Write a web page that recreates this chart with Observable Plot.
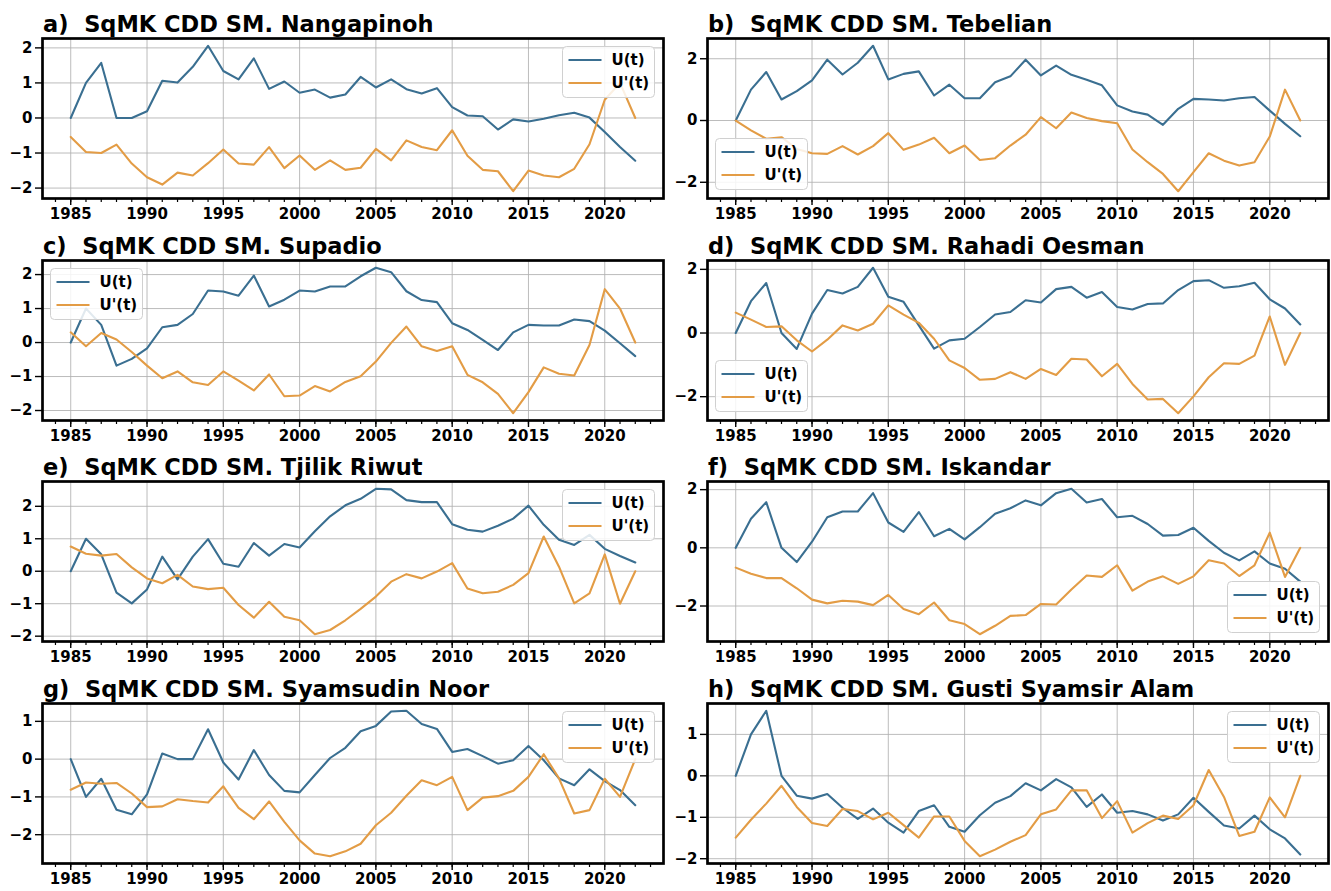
<!DOCTYPE html>
<html><head><meta charset="utf-8">
<script src="https://cdn.jsdelivr.net/npm/d3@7"></script>
<script src="https://cdn.jsdelivr.net/npm/@observablehq/plot@0.6"></script>
<style>
html,body{margin:0;padding:0;background:#fff;}
#wrap{position:relative;width:1331px;height:891px;overflow:hidden;background:#fff;}
#wrap svg{position:absolute;}
</style></head><body><div id="wrap"></div>
<script>
const years = [1985,1986,1987,1988,1989,1990,1991,1992,1993,1994,1995,1996,1997,1998,1999,2000,2001,2002,2003,2004,2005,2006,2007,2008,2009,2010,2011,2012,2013,2014,2015,2016,2017,2018,2019,2020,2021,2022];
const xMajorTicks = [1985,1990,1995,2000,2005,2010,2015,2020];
const xMinorTicks = [1984,1985,1986,1987,1988,1989,1990,1991,1992,1993,1994,1995,1996,1997,1998,1999,2000,2001,2002,2003,2004,2005,2006,2007,2008,2009,2010,2011,2012,2013,2014,2015,2016,2017,2018,2019,2020,2021,2022,2023];
const panelLabels = ["a)","b)","c)","d)","e)","f)","g)","h)"];
const stationNames = ["Nangapinoh","Tebelian","Supadio","Rahadi Oesman","Tjilik Riwut","Iskandar","Syamsudin Noor","Gusti Syamsir Alam"];
const seriesNames = ["U(t)","U'(t)"];

const U_a  = [0,1.0,1.57,0,0,0.19,1.06,1.01,1.46,2.06,1.34,1.1,1.7,0.83,1.04,0.72,0.81,0.58,0.67,1.17,0.87,1.1,0.82,0.7,0.85,0.31,0.07,0.05,-0.33,-0.04,-0.1,-0.02,0.08,0.15,0.01,-0.4,-0.83,-1.22];
const Up_a = [-0.54,-0.97,-1.0,-0.76,-1.3,-1.69,-1.9,-1.56,-1.64,-1.29,-0.9,-1.3,-1.33,-0.83,-1.43,-1.07,-1.48,-1.21,-1.48,-1.42,-0.88,-1.21,-0.64,-0.83,-0.92,-0.35,-1.08,-1.48,-1.52,-2.09,-1.5,-1.64,-1.69,-1.45,-0.75,0.52,1.0,0];
const U_b  = [0,1.0,1.57,0.68,0.95,1.3,1.97,1.49,1.87,2.42,1.33,1.51,1.59,0.81,1.16,0.72,0.72,1.24,1.43,1.97,1.46,1.78,1.48,1.32,1.14,0.49,0.29,0.19,-0.14,0.38,0.7,0.68,0.65,0.72,0.76,0.32,-0.11,-0.51];
const Up_b = [0,-0.32,-0.59,-0.54,-0.92,-1.06,-1.08,-0.83,-1.1,-0.83,-0.41,-0.95,-0.78,-0.56,-1.06,-0.81,-1.28,-1.22,-0.81,-0.46,0.11,-0.25,0.26,0.08,-0.02,-0.09,-0.94,-1.35,-1.73,-2.29,-1.67,-1.06,-1.3,-1.46,-1.35,-0.52,1.0,0];
const U_c  = [0,1.0,0.52,-0.68,-0.48,-0.17,0.45,0.52,0.84,1.53,1.5,1.38,1.97,1.06,1.26,1.53,1.5,1.65,1.65,1.95,2.2,2.07,1.51,1.25,1.19,0.57,0.37,0.08,-0.22,0.3,0.52,0.5,0.5,0.68,0.63,0.35,-0.02,-0.4];
const Up_c = [0.3,-0.11,0.28,0.09,-0.28,-0.68,-1.05,-0.85,-1.17,-1.25,-0.85,-1.12,-1.41,-0.94,-1.58,-1.56,-1.28,-1.44,-1.16,-0.99,-0.56,-0.01,0.47,-0.11,-0.25,-0.11,-0.95,-1.17,-1.51,-2.08,-1.46,-0.73,-0.92,-0.97,-0.07,1.57,1.0,0];
const U_d  = [0,1.0,1.57,0.0,-0.5,0.61,1.35,1.24,1.45,2.05,1.14,0.98,0.24,-0.49,-0.23,-0.18,0.19,0.58,0.66,1.03,0.96,1.38,1.45,1.11,1.29,0.82,0.74,0.91,0.93,1.35,1.63,1.66,1.42,1.47,1.58,1.06,0.77,0.27];
const Up_d = [0.64,0.42,0.19,0.21,-0.23,-0.58,-0.21,0.24,0.08,0.29,0.87,0.58,0.32,-0.18,-0.86,-1.1,-1.47,-1.44,-1.23,-1.44,-1.13,-1.32,-0.81,-0.83,-1.36,-0.97,-1.6,-2.09,-2.07,-2.52,-1.99,-1.39,-0.95,-0.97,-0.71,0.52,-1.0,0];
const U_e  = [0,1.0,0.52,-0.66,-0.99,-0.56,0.45,-0.25,0.45,0.99,0.23,0.14,0.87,0.48,0.84,0.73,1.23,1.69,2.03,2.23,2.54,2.52,2.19,2.13,2.13,1.45,1.28,1.22,1.4,1.62,2.02,1.43,0.97,0.81,1.12,0.69,0.47,0.27];
const Up_e = [0.76,0.54,0.48,0.53,0.12,-0.22,-0.37,-0.11,-0.47,-0.55,-0.51,-1.04,-1.43,-0.94,-1.4,-1.51,-1.94,-1.81,-1.51,-1.16,-0.78,-0.32,-0.09,-0.22,-0.01,0.25,-0.53,-0.68,-0.63,-0.42,-0.06,1.07,0.14,-0.99,-0.68,0.52,-1.0,0];
const U_f  = [0,1.0,1.57,0,-0.49,0.21,1.05,1.25,1.25,1.88,0.87,0.55,1.23,0.4,0.65,0.29,0.71,1.17,1.36,1.63,1.46,1.88,2.03,1.56,1.68,1.05,1.1,0.82,0.42,0.44,0.69,0.24,-0.17,-0.43,-0.12,-0.54,-0.72,-1.16];
const Up_f = [-0.68,-0.89,-1.04,-1.04,-1.39,-1.78,-1.91,-1.82,-1.85,-1.97,-1.62,-2.1,-2.28,-1.88,-2.49,-2.62,-2.97,-2.68,-2.34,-2.31,-1.93,-1.95,-1.43,-0.95,-1.0,-0.6,-1.47,-1.16,-0.98,-1.24,-0.98,-0.43,-0.54,-0.97,-0.6,0.52,-1.0,0];
const U_g  = [0,-1.0,-0.52,-1.34,-1.46,-0.93,0.15,0,0,0.79,-0.09,-0.54,0.24,-0.42,-0.84,-0.88,-0.42,0.03,0.3,0.74,0.88,1.26,1.28,0.93,0.8,0.19,0.27,0.08,-0.12,-0.03,0.35,-0.03,-0.51,-0.69,-0.27,-0.58,-0.82,-1.22];
const Up_g = [-0.81,-0.62,-0.65,-0.63,-0.91,-1.27,-1.25,-1.06,-1.11,-1.15,-0.72,-1.29,-1.59,-1.12,-1.66,-2.15,-2.5,-2.57,-2.44,-2.24,-1.75,-1.42,-0.97,-0.56,-0.69,-0.47,-1.35,-1.02,-0.98,-0.84,-0.47,0.13,-0.51,-1.44,-1.35,-0.52,-1.0,0];
const U_h  = [0,1.0,1.57,0,-0.48,-0.55,-0.44,-0.77,-1.04,-0.79,-1.13,-1.37,-0.85,-0.71,-1.23,-1.35,-0.95,-0.65,-0.49,-0.18,-0.35,-0.08,-0.28,-0.75,-0.45,-0.89,-0.85,-0.93,-1.08,-0.93,-0.53,-0.87,-1.2,-1.27,-0.96,-1.29,-1.51,-1.9];
const Up_h = [-1.49,-1.06,-0.67,-0.24,-0.75,-1.14,-1.21,-0.8,-0.85,-1.05,-0.89,-1.19,-1.49,-0.98,-0.98,-1.57,-1.94,-1.78,-1.59,-1.43,-0.93,-0.81,-0.35,-0.35,-1.02,-0.61,-1.37,-1.14,-0.96,-1.04,-0.71,0.14,-0.51,-1.45,-1.35,-0.52,-1.0,0];

const yTicks_a = [-2,-1,0,1,2];
const yTicks_b = [-2,0,2];
const yTicks_c = [-2,-1,0,1,2];
const yTicks_d = [-2,0,2];
const yTicks_e = [-2,-1,0,1,2];
const yTicks_f = [-2,0,2];
const yTicks_g = [-2,-1,0,1];
const yTicks_h = [-2,-1,0,1];

const legendLocs = ["upper right","lower left","upper left","lower left","upper right","lower right","upper right","upper right"];

const Us  = [U_a,U_b,U_c,U_d,U_e,U_f,U_g,U_h];
const Ups = [Up_a,Up_b,Up_c,Up_d,Up_e,Up_f,Up_g,Up_h];
const yTicksAll = [yTicks_a,yTicks_b,yTicks_c,yTicks_d,yTicks_e,yTicks_f,yTicks_g,yTicks_h];

const COL_U = "#3a6f91", COL_UP = "#e39c45";
const FONT = "'DejaVu Sans', 'Liberation Sans', sans-serif";

const W = [665, 666];
const colX = [0, 665];
const rowH = 221.67;
const mTop = 38, frameH = 160, mBottom = 26;
const mLeft = 42, mRight = [2, 3];
const fmt = d => d < 0 ? "\u2212" + Math.abs(d) : String(d);

const wrap = document.getElementById("wrap");

Us.forEach((U, i) => {
  const col = i % 2, row = Math.floor(i / 2);
  const Up = Ups[i];
  const data = years.map((y, k) => ({year: y, U: U[k], Up: Up[k]}));
  const all = U.concat(Up);
  const lo = d3.min(all), hi = d3.max(all), pad = 0.05 * (hi - lo);
  const xlo = d3.min(years), xhi = d3.max(years), xpad = 0.05 * (xhi - xlo);
  const yt = yTicksAll[i];
  const w = W[col], h = mTop + frameH + mBottom;

  const chart = Plot.plot({
    width: w, height: h,
    marginTop: mTop, marginBottom: mBottom, marginLeft: mLeft, marginRight: mRight[col],
    style: {fontFamily: FONT, fontSize: "15px", fontWeight: "bold", background: "transparent", color: "#000", overflow: "visible"},
    x: {domain: [xlo - xpad, xhi + xpad], label: null},
    y: {domain: [lo - pad, hi + pad], label: null},
    marks: [
      Plot.gridX(xMajorTicks, {stroke: "#b0b0b0", strokeOpacity: 0.85, strokeWidth: 1}),
      Plot.gridY(yt, {stroke: "#b0b0b0", strokeOpacity: 0.85, strokeWidth: 1}),
      Plot.line(data, {x: "year", y: "U", stroke: COL_U, strokeWidth: 2.1}),
      Plot.line(data, {x: "year", y: "Up", stroke: COL_UP, strokeWidth: 2.1}),
      Plot.axisX(xMinorTicks, {tickSize: 4, tickFormat: () => "", strokeWidth: 1.2, label: null}),
      Plot.axisX(xMajorTicks, {tickSize: 7, tickPadding: 3, tickFormat: d => String(d), strokeWidth: 1.4, label: null, fontWeight: "bold"}),
      Plot.axisY(yt, {tickSize: 7, tickPadding: 3, tickFormat: fmt, strokeWidth: 1.4, label: null, fontWeight: "bold"}),
      Plot.frame({stroke: "#000", strokeWidth: 2.7})
    ]
  });
  chart.style.left = colX[col] + "px";
  chart.style.top = Math.round(row * rowH) + "px";
  wrap.appendChild(chart);

  const svg = d3.select(chart);
  // title
  svg.append("text")
    .attr("x", mLeft + 1).attr("y", mTop - 6)
    .attr("text-anchor", "start")
    .attr("font-size", 22.5).attr("font-weight", "bold").attr("fill", "#000")
    .attr("font-family", FONT)
    .style("white-space", "pre")
    .text(panelLabels[i] + "  SqMK CDD SM. " + stationNames[i]);

  // legend
  const bw = 92, bh = 51, inset = 8.5;
  const fl = mLeft, fr = w - mRight[col], ft = mTop, fb = mTop + frameH;
  const loc = legendLocs[i];
  const bx = loc.includes("right") ? fr - inset - bw : fl + inset;
  const by = loc.includes("upper") ? ft + inset : fb - inset - bh;
  const g = svg.append("g").attr("transform", `translate(${bx},${by})`);
  g.append("rect").attr("width", bw).attr("height", bh).attr("rx", 4)
    .attr("fill", "#fff").attr("fill-opacity", 0.85).attr("stroke", "#d0d0d0").attr("stroke-width", 1);
  [COL_U, COL_UP].forEach((c, k) => {
    const cy = 13.5 + k * 23;
    g.append("line").attr("x1", 6).attr("x2", 39).attr("y1", cy).attr("y2", cy)
      .attr("stroke", c).attr("stroke-width", 2.2);
    g.append("text").attr("x", 49).attr("y", cy).attr("dy", "0.36em")
      .attr("text-anchor", "start")
      .attr("font-size", 15).attr("font-weight", "bold").attr("fill", "#000")
      .attr("font-family", FONT).text(seriesNames[k]);
  });
});
</script>
</body></html>
